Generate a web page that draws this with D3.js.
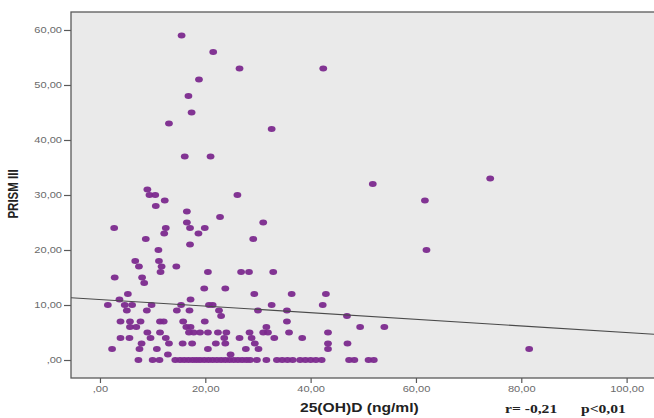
<!DOCTYPE html>
<html>
<head>
<meta charset="utf-8">
<script src="https://cdn.jsdelivr.net/npm/d3@7"></script>
<style>
  html, body { margin: 0; padding: 0; background: #fff; }
  svg { display: block; }
</style>
</head>
<body>
<svg id="chart" width="654" height="418"></svg>
<script>
// PRISM III scores (integer levels) and the 25(OH)D values found at each level
const prismLevels = [59, 56, 53, 51, 48, 45, 43, 42, 37, 33, 32, 31, 30, 29, 28, 27, 26, 25, 24, 23, 22, 21, 20,
  18, 17, 16, 15, 14, 13, 12, 11, 10, 9, 8, 7, 6, 5, 4, 3, 2, 1, 0];
const vitDAtLevel = [
  [15.5], [21.5], [26.5, 42.4], [18.8], [16.8], [17.4], [13.1], [32.6], [16.1, 21.0], [74.1], [51.8], [9.0],
  [9.4, 10.5, 26.1], [12.3, 61.7], [10.6], [16.5], [22.8], [16.5, 31.0], [2.7, 12.5, 17.1, 19.9], [12.2, 18.7],
  [8.7, 29.1], [17.1], [11.1, 62.0],
  [6.7, 11.2], [7.4, 11.7, 14.5], [11.5, 20.5, 26.8, 28.3, 32.9], [2.8, 8.0], [8.4], [19.8, 23.8],
  [5.3, 29.3, 36.4, 42.9], [3.7, 17.2],
  [1.5, 4.7, 6.1, 9.8, 15.4, 20.7, 21.4, 32.6, 42.3],
  [5.1, 8.9, 14.6, 17.0, 22.6, 30.0, 35.5],
  [23.0, 46.9],
  [3.9, 5.7, 7.7, 11.4, 12.1, 15.8, 19.9, 35.5],
  [5.7, 6.9, 16.4, 17.2, 31.6, 49.4, 54.0],
  [9.0, 11.4, 16.9, 17.8, 19.0, 20.5, 22.4, 24.0, 28.4, 31.0, 31.9, 35.9, 43.3],
  [3.9, 5.6, 9.6, 12.5, 23.6, 26.5, 28.8, 33.1, 38.4],
  [7.9, 13.1, 15.7, 17.5, 22.0, 23.8, 29.4, 43.3, 47.0],
  [2.3, 7.5, 10.8, 20.5, 27.7, 30.1, 43.3, 81.5],
  [12.9, 24.8],
  [7.3, 10.0, 11.3, 14.3, 15.2, 16.0, 16.8, 17.6, 18.3, 19.0, 19.8, 20.6, 21.4, 22.2, 23.0, 23.8, 24.6, 25.4,
   26.2, 27.0, 27.8, 28.5, 29.8, 31.6, 33.6, 34.6, 35.6, 36.6, 38.0, 39.0, 40.0, 41.0, 42.1, 47.3, 48.3, 51.0, 52.0]
];
const xTicks = [0, 20, 40, 60, 80, 100];
const yTicks = [0, 10, 20, 30, 40, 50, 60];
// fit line  prism = intercept + slope * vitD
const fitIntercept = 11.0;
const fitSlope = -0.06;
const xTitle = "25(OH)D (ng/ml)";
const yTitle = "PRISM III";
const statR = "r= -0,21";
const statP = "p<0,01";

const points = prismLevels.flatMap((p, i) => vitDAtLevel[i].map(v => ({ vitD: v, prism: p })));

const svg = d3.select("#chart");
const stretch = 1.3; // the original picture is widened horizontally

const xScale = d3.scaleLinear().domain([-5.5, 105.2]).range([71, 654]);
const yScale = d3.scaleLinear().domain([-3.27, 63.27]).range([378, 12]);

// SPSS style numbers: 20,00 and ,00
const spss = d => d === 0 ? ",00" : d3.format(".2f")(d).replace(".", ",");

// widen a text node like the source
const widen = (sel, f) => sel.each(function () {
  const len = this.getComputedTextLength();
  d3.select(this).attr("textLength", len * f).attr("lengthAdjust", "spacingAndGlyphs");
});

// plot background and frame
svg.append("rect")
  .attr("x", xScale.range()[0])
  .attr("y", yScale.range()[1])
  .attr("width", 700)
  .attr("height", yScale.range()[0] - yScale.range()[1])
  .style("fill", "#eaeaea")
  .style("stroke", "#5a5a5a")
  .style("stroke-width", 1.3);

// y axis
const yAxis = svg.append("g")
  .attr("transform", `translate(${xScale.range()[0]},0)`)
  .call(d3.axisLeft(yScale).tickValues(yTicks).tickFormat(spss).tickSize(7).tickPadding(2));
yAxis.select(".domain").remove();
yAxis.selectAll("line").style("stroke", "#5a5a5a").style("stroke-width", 1.2);
yAxis.selectAll("text")
  .style("font-family", "Arial, 'Liberation Sans', sans-serif")
  .style("font-size", "8.5px")
  .style("fill", "#6a6a6a")
  .call(widen, stretch);

// x axis
const xAxis = svg.append("g")
  .attr("transform", `translate(0,${yScale.range()[0]})`)
  .call(d3.axisBottom(xScale).tickValues(xTicks).tickFormat(spss).tickSize(5).tickPadding(3));
xAxis.select(".domain").remove();
xAxis.selectAll("line").style("stroke", "#5a5a5a").style("stroke-width", 1.2);
xAxis.selectAll("text")
  .style("font-family", "Arial, 'Liberation Sans', sans-serif")
  .style("font-size", "8.5px")
  .style("fill", "#6a6a6a")
  .call(widen, stretch);

// points
svg.append("g")
  .selectAll("ellipse")
  .data(points)
  .enter()
  .append("ellipse")
  .attr("cx", d => xScale(d.vitD))
  .attr("cy", d => yScale(d.prism))
  .attr("rx", 3.9)
  .attr("ry", 3)
  .style("fill", "#7c2a8e")
  .style("opacity", 0.95);

// fit line
const xd = xScale.domain();
svg.append("line")
  .attr("x1", xScale(xd[0]))
  .attr("y1", yScale(fitIntercept + fitSlope * xd[0]))
  .attr("x2", xScale(xd[1]))
  .attr("y2", yScale(fitIntercept + fitSlope * xd[1]))
  .style("stroke", "#4a4a4a")
  .style("stroke-width", 1.1);

// titles
svg.append("text")
  .attr("x", 300)
  .attr("y", 412)
  .style("font-family", "Arial, 'Liberation Sans', sans-serif")
  .style("font-weight", "bold")
  .style("font-size", "12px")
  .style("fill", "#222")
  .text(xTitle)
  .call(widen, stretch);

svg.append("text")
  .attr("transform", `translate(18,194) scale(${stretch},1) rotate(-90)`)
  .attr("text-anchor", "middle")
  .style("font-family", "Arial, 'Liberation Sans', sans-serif")
  .style("font-weight", "bold")
  .style("font-size", "11.5px")
  .style("fill", "#222")
  .text(yTitle);

// correlation note
[[statR, 505], [statP, 581]].forEach(([t, x]) => {
  svg.append("text")
    .attr("x", x)
    .attr("y", 413)
    .style("font-family", "'Liberation Serif', 'Times New Roman', serif")
    .style("font-weight", "bold")
    .style("font-size", "12px")
    .style("fill", "#222")
    .text(t)
    .call(widen, stretch);
});
</script>
</body>
</html>
